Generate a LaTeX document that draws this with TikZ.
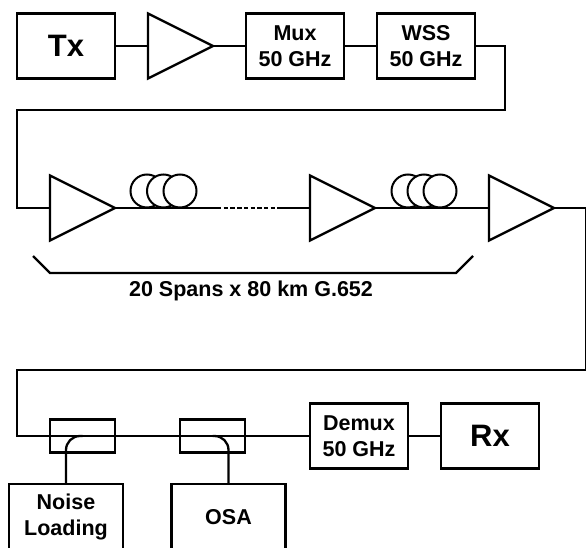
\documentclass[tikz,border=0pt]{standalone}
\usepackage{fontspec}
\setmainfont{Liberation Sans}
\usepackage{tikz}
\usetikzlibrary{positioning,shapes.geometric}

\begin{document}
\begin{tikzpicture}[
  x=1pt, y=1pt,
  font=\bfseries\fontsize{21.5}{25.5}\selectfont,
  node distance=33pt,
  wire/.style={line width=2.3pt, line join=miter},
  box/.style={draw, line width=2.3pt, align=center, outer sep=0pt, inner sep=0pt,
    minimum width=98pt, minimum height=65pt},
  bigbox/.style={box, font=\bfseries\fontsize{31}{36}\selectfont},
  tapbox/.style={box, minimum width=114pt, minimum height=66pt, anchor=north},
  amp/.style={draw, line width=2.3pt, isosceles triangle, isosceles triangle stretches,
    shape border rotate=0, minimum width=65pt, minimum height=65pt,
    inner sep=0pt, outer sep=0pt},
  coupler/.style={draw, line width=2.3pt, outer sep=0pt, inner sep=0pt,
    minimum width=65pt, minimum height=33pt},
  coil/.style={draw, circle, fill=white, line width=2pt, minimum size=33pt,
    inner sep=0pt, outer sep=0pt},
]
\clip (0,0) rectangle (586,-548);

% transmitter row
\node[bigbox] (tx) at (66,-46) {Tx};
\node[amp, right=of tx] (ampa) {};
\node[box, right=of ampa] (mux) {Mux\\50 GHz};
\node[box, right=of mux] (wss) {WSS\\50 GHz};
\draw[wire] (tx) -- (ampa.lower side);
\draw[wire] (ampa.apex) -- (mux);
\draw[wire] (mux) -- (wss);

% line
\node[amp, anchor=lower side] (ampb) at (50,-208) {};
\node[amp, anchor=lower side] (ampc) at (310,-208) {};
\node[amp, anchor=lower side] (ampd) at (489,-208) {};
\foreach \n/\x in {aa/147,ab/163.5,ac/180,ba/408,bb/424,bc/440}
  \node[coil] (coil\n) at (\x,-191) {};

\coordinate (turna) at (505,-46);
\coordinate (turnb) at (17,-110);
\coordinate (turnc) at (586,-370);
\coordinate (turnd) at (17,-436);
\coordinate (dota) at (217,-208);
\coordinate (dotb) at (277,-208);

\draw[wire] (wss) -- (turna) |- (turnb) |- (ampb.lower side);
\draw[wire] (ampb.apex) -- (dota);
\draw[line width=2.3pt, dash pattern=on 4.4pt off 2.3pt] (dota) -- (dotb);
\draw[wire] (dotb) -- (ampc.lower side);
\draw[wire] (ampc.apex) -- (ampd.lower side);

% span bracket
\coordinate (brla) at (33,-256);
\coordinate (brlb) at (50,-273);
\coordinate (brra) at (473,-256);
\coordinate (brrb) at (456,-273);
\draw[wire] (brla) -- (brlb) -- (brrb) -- (brra);
\node (span) at (251,-291) {20 Spans x 80 km G.652};

% receiver row
\node[box] (demux) at (359,-436) {Demux\\50 GHz};
\node[bigbox, right=of demux] (rx) {Rx};
\node[coupler] (coupa) at (82.5,-436) {};
\node[coupler] (coupb) at (212.5,-436) {};
\node[tapbox] (noise) at (66,-484) {Noise\\Loading};
\node[tapbox] (osa) at (228.5,-484) {OSA};

\draw[wire] (ampd.apex) -| (turnc) -| (turnd) -- (demux);
\draw[wire] (demux) -- (rx);
\draw[wire, rounded corners=14pt] (noise.north) |- (coupa.center);
\draw[wire, rounded corners=14pt] (osa.north) |- (coupb.center);
\end{tikzpicture}
\end{document}
